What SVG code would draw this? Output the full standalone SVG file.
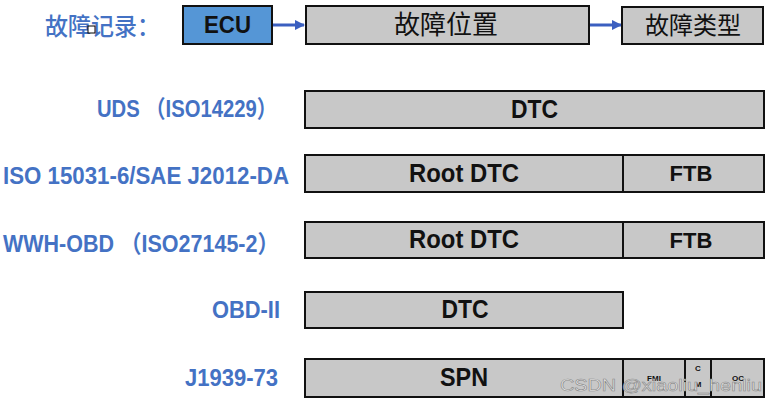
<svg xmlns="http://www.w3.org/2000/svg" width="773" height="402" viewBox="0 0 773 402">
<style>
.box{fill:#c8c8c8;stroke:#111;stroke-width:2}
.ecu{fill:#5596d6;stroke:#111;stroke-width:2}
.div{stroke:#111;stroke-width:2}
.lbl{font-family:"Liberation Sans","Noto Sans CJK SC",sans-serif;font-weight:bold;fill:#4472c4;font-size:24px}
.t{font-family:"Liberation Sans","Noto Sans CJK SC",sans-serif;font-weight:bold;fill:#111;text-anchor:middle}
.cn{font-family:"Noto Sans CJK SC",sans-serif;fill:#111;text-anchor:middle}
.sm{font-family:"Liberation Sans",sans-serif;font-weight:bold;fill:#111;font-size:8px;text-anchor:middle}
.arr{stroke:#3b5fc0;stroke-width:3;fill:none}
</style>
<defs>
<marker id="ah" viewBox="0 0 10 10" refX="9" refY="5" markerWidth="3.5" markerHeight="3.5" orient="auto" markerUnits="strokeWidth">
<path d="M0,0 L10,5 L0,10 z" fill="#3b5fc0"/>
</marker>
</defs>
<rect width="773" height="402" fill="#fff"/>
<g id="title">
<text x="45" y="35" font-family="Noto Sans CJK SC,sans-serif" font-size="24" font-weight="500" fill="#4472c4" textLength="115" lengthAdjust="spacingAndGlyphs">故障记录：</text>
<rect x="88" y="26" width="7" height="7" fill="#fff" stroke="#000" stroke-width="1"/>
</g>
<g id="labels">
<text class="lbl" x="97" y="117" textLength="180" lengthAdjust="spacingAndGlyphs">UDS （ISO14229）</text>
<text class="lbl" x="3" y="184" textLength="286" lengthAdjust="spacingAndGlyphs">ISO 15031-6/SAE J2012-DA</text>
<text class="lbl" x="3" y="252" textLength="276" lengthAdjust="spacingAndGlyphs">WWH-OBD （ISO27145-2）</text>
<text class="lbl" x="212" y="318" textLength="68" lengthAdjust="spacingAndGlyphs">OBD-II</text>
<text class="lbl" x="185" y="386" textLength="93" lengthAdjust="spacingAndGlyphs">J1939-73</text>
</g>
<g id="connectors">
<line class="arr" x1="273" y1="25" x2="304" y2="25" marker-end="url(#ah)"/>
<line class="arr" x1="590" y1="25" x2="621" y2="25" marker-end="url(#ah)"/>
</g>
<g id="ecu">
<rect class="ecu" x="183" y="6" width="89" height="38"/>
<text class="t" x="227.5" y="33" font-size="23" textLength="47" lengthAdjust="spacingAndGlyphs">ECU</text>
</g>
<g id="location">
<rect class="box" x="306" y="6" width="283" height="38"/>
<text class="cn" x="446" y="34" font-size="26">故障位置</text>
</g>
<g id="type">
<rect class="box" x="622" y="7" width="141" height="37"/>
<text class="cn" x="693" y="34" font-size="24">故障类型</text>
</g>
<g id="uds">
<rect class="box" x="305" y="91" width="459" height="37"/>
<text class="t" x="534.5" y="118" font-size="25" textLength="47" lengthAdjust="spacingAndGlyphs">DTC</text>
</g>
<g id="iso15031">
<rect class="box" x="305" y="155" width="459" height="37"/>
<line class="div" x1="623" y1="155" x2="623" y2="192"/>
<text class="t" x="464" y="182" font-size="25" textLength="110" lengthAdjust="spacingAndGlyphs">Root DTC</text>
<text class="t" x="691" y="181" font-size="22">FTB</text>
</g>
<g id="wwhobd">
<rect class="box" x="305" y="222" width="459" height="36"/>
<line class="div" x1="623" y1="222" x2="623" y2="258"/>
<text class="t" x="464" y="248" font-size="25" textLength="110" lengthAdjust="spacingAndGlyphs">Root DTC</text>
<text class="t" x="691" y="248" font-size="22">FTB</text>
</g>
<g id="obd2">
<rect class="box" x="305" y="292" width="318" height="36"/>
<text class="t" x="465" y="318" font-size="25" textLength="47" lengthAdjust="spacingAndGlyphs">DTC</text>
</g>
<g id="j1939">
<rect class="box" x="305" y="359" width="459" height="38"/>
<line class="div" x1="623" y1="359" x2="623" y2="397"/>
<line class="div" x1="685" y1="359" x2="685" y2="397"/>
<line class="div" x1="711" y1="359" x2="711" y2="397"/>
<text class="t" x="464" y="386" font-size="25" textLength="48" lengthAdjust="spacingAndGlyphs">SPN</text>
<text class="sm" x="654" y="381">FMI</text>
<text class="sm" x="698" y="371">C</text>
<text class="sm" x="698" y="387">M</text>
<text class="sm" x="738" y="381">OC</text>
</g>
<text x="560" y="391" font-family="Liberation Sans,sans-serif" font-size="16" fill="#e8e8e8" stroke="#8a8a8a" stroke-width="0.6" textLength="202" lengthAdjust="spacingAndGlyphs">CSDN @xiaoliu_henliu</text>
</svg>
